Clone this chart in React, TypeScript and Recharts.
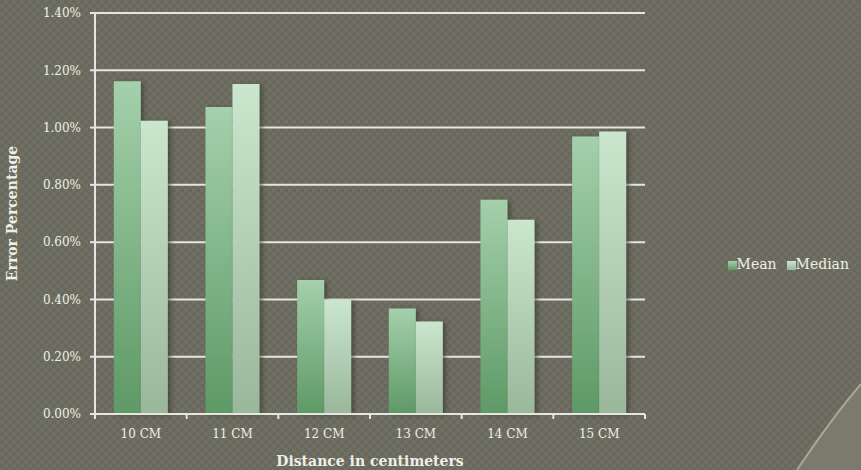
import React from "react";
import {
  BarChart,
  Bar,
  XAxis,
  YAxis,
  CartesianGrid,
  Legend,
} from "recharts";

// =====================================
// DATA
// =====================================

const categories = ["10 CM", "11 CM", "12 CM", "13 CM", "14 CM", "15 CM"];

const meanValues = [1.162, 1.072, 0.468, 0.368, 0.748, 0.969];

const medianValues = [1.024, 1.152, 0.4, 0.323, 0.678, 0.986];

const yTicks = [0, 0.2, 0.4, 0.6, 0.8, 1.0, 1.2, 1.4];

const data = categories.map((c, i) => ({
  name: c,
  Mean: meanValues[i],
  Median: medianValues[i],
}));

const FONT = "'DejaVu Serif', 'Liberation Serif', serif";
const TEXT = "#efefe8";
const LINE = "#e6e6e0";

const XTick = (props: any) => {
  const { x, y, payload, index, visibleTicksCount, width } = props;
  const half =
    payload && payload.offset
      ? payload.offset
      : width / (visibleTicksCount || 6) / 2;
  const y0 = y - 14;

  return (
    <g>
      <line x1={x - half} x2={x - half} y1={y0} y2={y0 + 5} stroke={LINE} strokeWidth={2} />
      {index === visibleTicksCount - 1 && (
        <line x1={x + half} x2={x + half} y1={y0} y2={y0 + 5} stroke={LINE} strokeWidth={2} />
      )}
      <text
        x={x}
        y={y}
        dy={10}
        textAnchor="middle"
        fill={TEXT}
        fontSize={12}
        fontFamily={FONT}
      >
        {payload.value}
      </text>
    </g>
  );
};

const YTitle = (props: any) => {
  const vb = props.viewBox || {};
  const cy = (vb.y || 0) + (vb.height || 0) / 2;

  return (
    <text
      x={17}
      y={cy}
      transform={`rotate(-90, 17, ${cy})`}
      textAnchor="middle"
      fill={TEXT}
      fontSize={14}
      fontWeight="bold"
      fontFamily={FONT}
    >
      Error Percentage
    </text>
  );
};

export default function App() {
  return (
    <div
      style={{
        position: "absolute",
        left: 0,
        top: 0,
        width: 861,
        height: 470,
        overflow: "hidden",
        backgroundColor: "#6b6b5f",
        backgroundImage:
          "repeating-conic-gradient(#6f6f63 0% 25%, #68685c 0% 50%)",
        backgroundSize: "8px 8px",
      }}
    >
      {/* slide decoration, bottom right corner */}
      <svg
        width={861}
        height={470}
        style={{ position: "absolute", left: 0, top: 0 }}
      >
        <path
          d="M 797 470 Q 832 418 861 384 L 861 470 Z"
          fill="#7a7a6d"
        />
        <path
          d="M 797 470 Q 832 418 861 384"
          fill="none"
          stroke="#a8a897"
          strokeWidth={2}
        />
      </svg>

      <div style={{ position: "absolute", left: 0, top: 0 }}>
        <BarChart
          width={861}
          height={470}
          data={data}
          margin={{ top: 13, right: 76, bottom: 0, left: 0 }}
          barCategoryGap="20.5%"
          barGap={0}
        >
          <defs>
            <linearGradient id="meanFill" x1="0" y1="0" x2="0" y2="1">
              <stop offset="0%" stopColor="#a4d0ab" />
              <stop offset="100%" stopColor="#5e9966" />
            </linearGradient>
            <linearGradient id="medianFill" x1="0" y1="0" x2="0" y2="1">
              <stop offset="0%" stopColor="#cae6cd" />
              <stop offset="100%" stopColor="#9ab79c" />
            </linearGradient>
            <filter id="barShadow" x="-20%" y="-5%" width="150%" height="110%">
              <feDropShadow dx={3} dy={1} stdDeviation={2} floodColor="#2e2e26" floodOpacity={0.55} />
            </filter>
          </defs>

          <CartesianGrid
            vertical={false}
            stroke={LINE}
            strokeWidth={2}
          />

          <XAxis
            dataKey="name"
            height={56}
            axisLine={{ stroke: LINE, strokeWidth: 2 }}
            tickLine={false}
            tickSize={0}
            tickMargin={14}
            tick={<XTick />}
            interval={0}
            label={{
              value: "Distance in centimeters",
              position: "insideBottom",
              offset: 4,
              fill: TEXT,
              fontSize: 14,
              fontWeight: "bold",
              fontFamily: FONT,
            }}
          />

          <YAxis
            width={95}
            domain={[0, 1.4]}
            ticks={yTicks}
            interval={0}
            axisLine={{ stroke: LINE, strokeWidth: 2 }}
            tickLine={{ stroke: LINE, strokeWidth: 2 }}
            tickSize={5}
            tickMargin={9}
            tickFormatter={(v: number) => v.toFixed(2) + "%"}
            tick={{ fill: TEXT, fontSize: 12, fontFamily: FONT }}
            label={{ content: <YTitle /> }}
          />

          <Legend
            layout="horizontal"
            verticalAlign="middle"
            align="right"
            iconType="square"
            iconSize={9}
            wrapperStyle={{
              left: 719,
              top: 256,
              width: 140,
              fontFamily: FONT,
              fontSize: 14,
            }}
            formatter={(value: string) => (
              <span style={{ color: TEXT, marginLeft: -4 }}>{value}</span>
            )}
          />

          <Bar
            dataKey="Mean"
            fill="url(#meanFill)"
            filter="url(#barShadow)"
            isAnimationActive={false}
          />

          <Bar
            dataKey="Median"
            fill="url(#medianFill)"
            filter="url(#barShadow)"
            isAnimationActive={false}
          />
        </BarChart>
      </div>
    </div>
  );
}
